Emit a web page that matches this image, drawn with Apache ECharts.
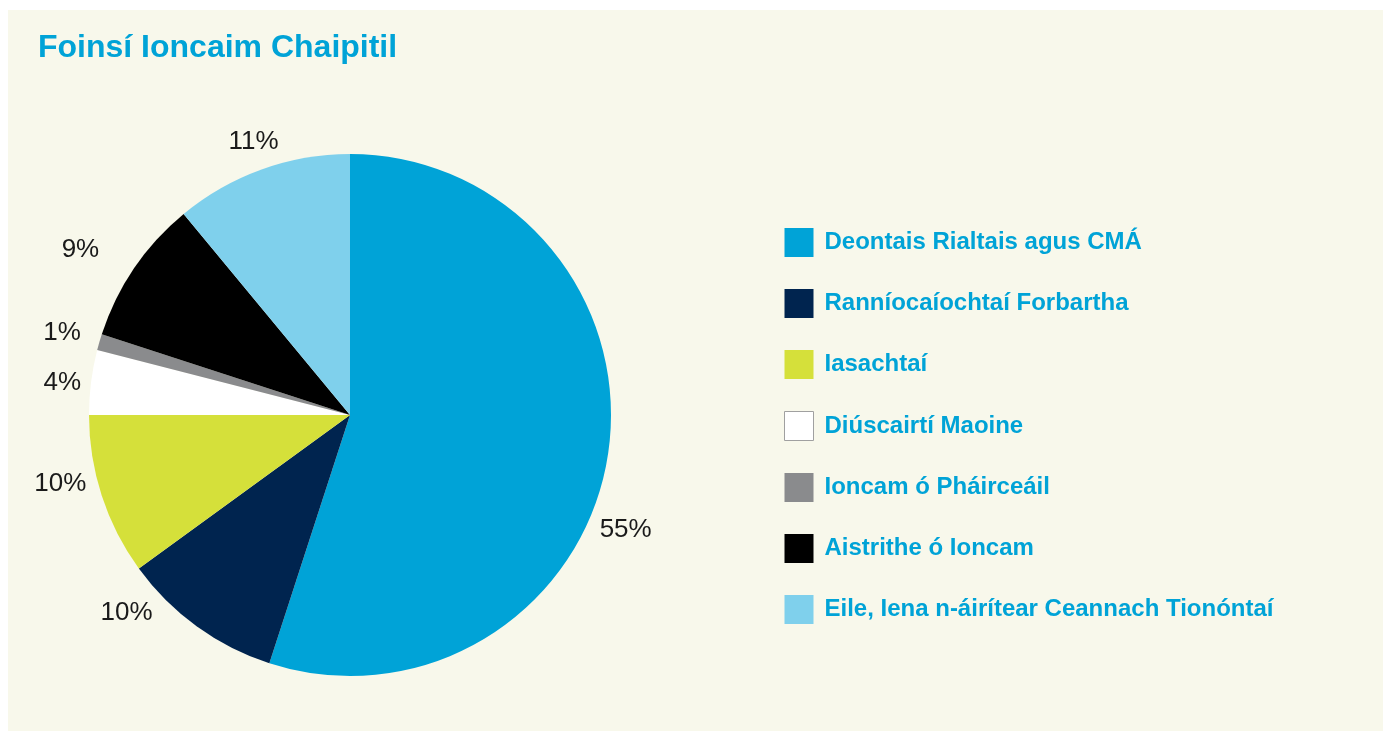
<!DOCTYPE html>
<html>
<head>
<meta charset="utf-8">
<script src="https://cdn.jsdelivr.net/npm/echarts@6/dist/echarts.min.js"></script>
<style>
  html, body { margin: 0; padding: 0; background: #ffffff; }
  #chart {
    position: absolute;
    left: 8px;
    top: 10px;
    width: 1375px;
    height: 721px;
    background: #f8f8eb;
  }
</style>
</head>
<body>
<div id="chart"></div>
<script>
// sciar den ioncam chaipitil (%)
const categories = [
  'Deontais Rialtais agus CMÁ',
  'Ranníocaíochtaí Forbartha',
  'Iasachtaí',
  'Diúscairtí Maoine',
  'Ioncam ó Pháirceáil',
  'Aistrithe ó Ioncam',
  'Eile, Iena n-áirítear Ceannach Tionóntaí'
]
const shares = [55, 10, 10, 4, 1, 9, 11]
const colors = ['#00a3d7', '#00244f', '#d5e03a', '#ffffff', '#8a8b8d', '#000000', '#7fd0ec']

// lipéid bogtha de láimh mar atá san bhunchairt
const labelNudge = [[-25, 72], [-32, -23], [1, -16], [7, 2], [-2, -6], [-20, -12], [26, -16]]

const chart = echarts.init(document.getElementById('chart'))

const option = {
  animation: false,
  title: {
    text: 'Foinsí Ioncaim Chaipitil',
    left: 25,
    top: 17,
    textStyle: {
      color: '#00a3d7',
      fontFamily: 'Liberation Sans, Arial, sans-serif',
      fontWeight: 'bold',
      fontSize: 32
    }
  },
  legend: {
    orient: 'vertical',
    left: 771,
    top: 213,
    itemWidth: 29,
    itemHeight: 29,
    itemGap: 32,
    icon: 'rect',
    data: categories.map((name, i) => ({
      name,
      itemStyle: i === 3 ? { borderColor: '#a0a0a0', borderWidth: 1 } : {}
    })),
    textStyle: {
      color: '#00a3d7',
      fontFamily: 'Liberation Sans, Arial, sans-serif',
      fontWeight: 'bold',
      fontSize: 24,
      padding: [0, 0, 0, 6]
    }
  },
  series: [{
    type: 'pie',
    center: [342, 405],
    radius: [0, 261],
    startAngle: 90,
    clockwise: true,
    avoidLabelOverlap: false,
    data: categories.map((name, i) => ({
      name,
      value: shares[i],
      itemStyle: { color: colors[i] },
      label: { offset: labelNudge[i] }
    })),
    label: {
      show: true,
      position: 'outside',
      formatter: '{c}%',
      color: '#1a1a1a',
      fontFamily: 'Liberation Sans, Arial, sans-serif',
      fontSize: 26
    },
    labelLine: { show: false, length: 12, length2: 0 },
    emphasis: { disabled: true }
  }]
}

chart.setOption(option)
</script>
</body>
</html>
